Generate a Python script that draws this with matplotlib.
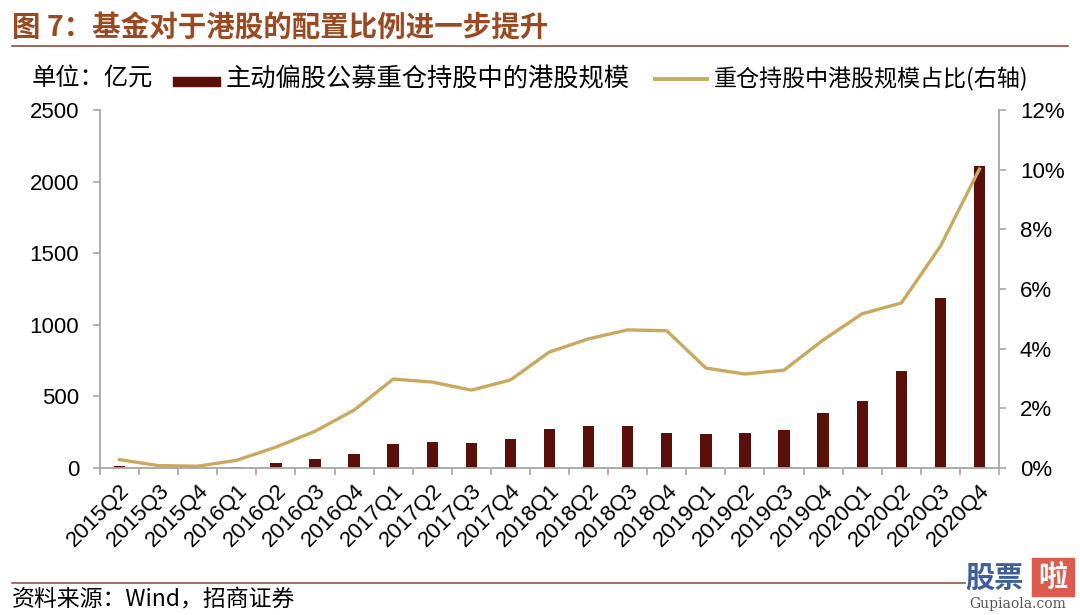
import matplotlib
matplotlib.use("Agg")
import matplotlib.pyplot as plt
from matplotlib.patches import Rectangle
from matplotlib.lines import Line2D
import numpy as np

plt.rcParams['font.family'] = ['Liberation Sans', 'Noto Sans CJK SC', 'DejaVu Sans']

categories = ['2015Q2', '2015Q3', '2015Q4', '2016Q1', '2016Q2', '2016Q3', '2016Q4',
              '2017Q1', '2017Q2', '2017Q3', '2017Q4', '2018Q1', '2018Q2', '2018Q3',
              '2018Q4', '2019Q1', '2019Q2', '2019Q3', '2019Q4', '2020Q1', '2020Q2',
              '2020Q3', '2020Q4']
hk_scale = [12, 2, 2, 5, 33, 62, 100, 168, 179, 172, 203, 275, 293, 293, 242,
            237, 242, 268, 387, 470, 675, 1185, 2107]
hk_ratio = [0.28, 0.08, 0.06, 0.26, 0.70, 1.23, 1.94, 2.98, 2.88, 2.61, 2.95,
            3.89, 4.33, 4.63, 4.60, 3.35, 3.15, 3.28, 4.29, 5.17, 5.53, 7.43, 10.02]
left_ticks = [0, 500, 1000, 1500, 2000, 2500]
right_ticks = [0, 2, 4, 6, 8, 10, 12]

bar_color = '#5B0F0B'
line_color = '#C8A95E'
spine_color = '#A6A6A6'
brown = '#9A4A22'
CJK = ['Noto Sans CJK SC', 'DejaVu Sans']

fig = plt.figure(figsize=(10.8, 6.15), dpi=100)
ax = fig.add_axes([100/1080, 1-468/615, 899/1080, (468-110)/615])
ax2 = ax.twinx()

x = np.arange(len(categories))
ax.bar(x, hk_scale, width=0.29, color=bar_color, zorder=2)
ax2.plot(x, hk_ratio, color=line_color, lw=2.4, zorder=3, solid_joinstyle='round')

ax.set_xlim(-0.5, len(categories) - 0.5)
ax.set_ylim(0, 2500)
ax2.set_ylim(0, 12)
ax.set_yticks(left_ticks)
ax.set_yticklabels([str(t) for t in left_ticks])
ax2.set_yticks(right_ticks)
ax2.set_yticklabels([f'{t}%' for t in right_ticks])

ax.set_xticks(x)
ax.set_xticklabels(categories, rotation=45, ha='right', rotation_mode='anchor')
ax.set_xticks(np.arange(-0.5, len(categories)), minor=True)
ax.tick_params(axis='x', which='major', length=0, pad=9, labelsize=16)
ax.tick_params(axis='x', which='minor', length=5, width=1.2, color=spine_color, direction='out')
ax.tick_params(axis='y', length=5, width=1.2, color=spine_color, labelsize=16, pad=10)
ax2.tick_params(axis='y', length=5, width=1.2, color=spine_color, labelsize=16, pad=10)

for a in (ax, ax2):
    a.spines['top'].set_visible(False)
    for s in ('left', 'right', 'bottom'):
        a.spines[s].set_color(spine_color)
        a.spines[s].set_linewidth(1.3)
ax.spines['right'].set_visible(False)
ax2.spines['left'].set_visible(False)
ax2.spines['bottom'].set_visible(False)

# Title
fig.text(12/1080, 1-28/615, '图 7：基金对于港股的配置比例进一步提升', family=CJK,
         fontsize=20.5, fontweight='bold', color=brown, va='center', ha='left')
fig.add_artist(Line2D([12/1080, 1068/1080], [1-46/615, 1-46/615], color='#8C4B3A', lw=1.2))

# Unit & legend
fig.text(32/1080, 1-78/615, '单位：亿元', family=CJK, fontsize=17.5, va='center', ha='left')
fig.add_artist(Rectangle((173/1080, 1-86/615), 47/1080, 9/615, color=bar_color, transform=fig.transFigure))
fig.text(226/1080, 1-79/615, '主动偏股公募重仓持股中的港股规模', family=CJK, fontsize=18.2,
         va='center', ha='left')
fig.add_artist(Line2D([655/1080, 707/1080], [1-79/615, 1-79/615], color=line_color, lw=2.8))
fig.text(714/1080, 1-79/615, '重仓持股中港股规模占比(右轴)', family=CJK, fontsize=16.6,
         va='center', ha='left')

# Footer
fig.add_artist(Line2D([12/1080, 965/1080], [1-583/615, 1-583/615], color='#8C5A4A', lw=1.2))
fig.text(12/1080, 1-600/615, '资料来源：Wind，招商证券', family=CJK, fontsize=16.5,
         va='center', ha='left')

# Watermark
fig.text(965/1080, 1-578/615, '股票', family=CJK, fontsize=21, fontweight='bold',
         color='#3F5F9C', va='center', ha='left')
fig.add_artist(Rectangle((1032/1080, 1-596/615), 42/1080, 38/615, color='#DC5A4E',
                         transform=fig.transFigure))
fig.text(1053/1080, 1-577/615, '啦', family=CJK, fontsize=21, fontweight='bold',
         color='white', va='center', ha='center')
fig.text(1018/1080, 1-604/615, 'Gupiaola.com', family=['DejaVu Serif'], fontsize=10,
         color='#555555', va='center', ha='center')

fig.savefig('out.png', dpi=100)
